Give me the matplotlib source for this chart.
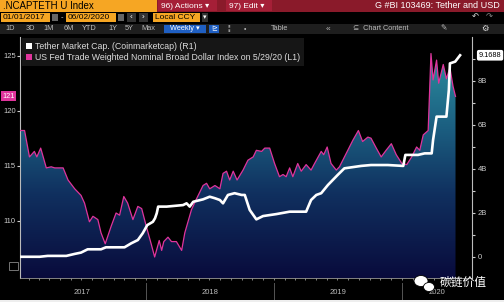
import numpy as np
import pandas as pd
import matplotlib
matplotlib.use('Agg')
import matplotlib.pyplot as plt
import matplotlib.dates as mdates
import matplotlib.transforms as mtrans
from matplotlib.colors import LinearSegmentedColormap
from matplotlib.patches import Rectangle, Ellipse, Patch

plt.rcParams['font.family'] = ['Liberation Sans', 'DejaVu Sans']

# US Fed trade weighted broad dollar index (left axis)
usd_dates = ['2017-01-07', '2017-01-20', '2017-02-03', '2017-02-17', '2017-02-24', '2017-03-07',
             '2017-03-23', '2017-04-06', '2017-04-16', '2017-05-10', '2017-05-24', '2017-06-12',
             '2017-06-30', '2017-07-10', '2017-07-24', '2017-08-03', '2017-08-17', '2017-08-26',
             '2017-09-07', '2017-09-24', '2017-10-08', '2017-10-18', '2017-10-30', '2017-11-10',
             '2017-11-25', '2017-12-09', '2017-12-20',
             '2018-01-02', '2018-01-16', '2018-01-26', '2018-02-08', '2018-02-15', '2018-02-21',
             '2018-03-05', '2018-03-15', '2018-03-29', '2018-04-13', '2018-04-22', '2018-05-11',
             '2018-05-21', '2018-06-13', '2018-06-23', '2018-07-02', '2018-07-17', '2018-07-31',
             '2018-08-09', '2018-08-19', '2018-08-28', '2018-09-07', '2018-09-18', '2018-10-05',
             '2018-10-19', '2018-11-03', '2018-11-12', '2018-11-27', '2018-12-06', '2018-12-20',
             '2019-01-03', '2019-01-17', '2019-01-27', '2019-02-05', '2019-02-15', '2019-02-24',
             '2019-03-10', '2019-03-20', '2019-04-03', '2019-04-17', '2019-04-27', '2019-05-16',
             '2019-05-23', '2019-06-02', '2019-06-13', '2019-06-28', '2019-07-07', '2019-07-26',
             '2019-08-14', '2019-08-30', '2019-09-11', '2019-09-26', '2019-10-05', '2019-10-20',
             '2019-11-03', '2019-11-17', '2019-12-02', '2019-12-16',
             '2020-01-01', '2020-01-15', '2020-01-29', '2020-02-12', '2020-02-21', '2020-03-02',
             '2020-03-16', '2020-03-24', '2020-03-30', '2020-04-09', '2020-04-15', '2020-04-28',
             '2020-05-07', '2020-05-17', '2020-05-26', '2020-06-02']
usd_vals = [118.2, 118.2, 115.8, 116.3, 115.8, 116.6, 114.8, 114.9, 114.8, 114.8, 113.7, 112.9,
            112.3, 111.6, 109.9, 110.4, 110.1, 108.9, 107.9, 109.5, 110.7, 110.5, 112.2, 111.6,
            110.1, 111.3, 111.1,
            109.5, 107.9, 106.7, 108.2, 107.3, 108.1, 108.5, 108.1, 108.1, 107.3, 108.9, 111.0,
            111.7, 113.2, 113.4, 112.9, 113.2, 112.9, 114.3, 114.5, 113.7, 114.5, 113.7, 114.6,
            115.5, 115.8, 116.4, 116.3, 116.6, 116.6,
            115.2, 114.0, 114.2, 114.0, 114.8, 114.0, 115.2, 114.5, 115.1, 114.6, 115.2, 116.3,
            116.0, 116.7, 115.2, 114.6, 114.9, 116.1, 117.3, 118.2, 117.2, 117.6, 117.5, 116.6,
            115.8, 116.4, 117.0, 116.0,
            115.2, 115.1, 115.8, 116.7, 116.4, 117.8, 118.2, 125.2, 122.8, 124.6, 122.5, 124.2,
            122.9, 123.9, 122.2, 121.3]

# Tether market cap in billions USD (right axis)
tether_dates = ['2017-01-07', '2017-03-04', '2017-03-27', '2017-05-19', '2017-06-12', '2017-06-30',
                '2017-07-19', '2017-08-26', '2017-09-09', '2017-11-01', '2017-11-20', '2017-12-09',
                '2017-12-23',
                '2018-01-05', '2018-01-21', '2018-01-27', '2018-02-01', '2018-02-05', '2018-03-01',
                '2018-04-17', '2018-04-27', '2018-05-06', '2018-05-16', '2018-06-13', '2018-07-02',
                '2018-07-17', '2018-07-31', '2018-08-09', '2018-08-23', '2018-09-11', '2018-10-01',
                '2018-10-10', '2018-10-24', '2018-11-12', '2018-12-01',
                '2019-01-08', '2019-02-15', '2019-04-03', '2019-04-17', '2019-05-02', '2019-05-16',
                '2019-06-04', '2019-06-18', '2019-07-02', '2019-07-21', '2019-09-07', '2019-10-05',
                '2019-11-22',
                '2020-01-05', '2020-01-11', '2020-02-16', '2020-03-06', '2020-03-26', '2020-03-30',
                '2020-04-09', '2020-05-07', '2020-05-14', '2020-05-17', '2020-06-01', '2020-06-15']
tether_vals = [0.01, 0.01, 0.05, 0.05, 0.14, 0.2, 0.35, 0.35, 0.44, 0.44, 0.62, 0.77, 1.08,
               1.45, 1.6, 1.76, 1.99, 2.29, 2.29, 2.36, 2.44, 2.29, 2.51, 2.62, 2.74, 2.67, 2.59,
               2.44, 2.82, 2.9, 2.82, 2.82, 2.14, 1.71, 1.86,
               1.95, 2.06, 2.06, 2.59, 2.82, 2.9, 3.27, 3.5, 3.73, 4.03, 4.14, 4.18, 4.18,
               4.14, 4.64, 4.64, 4.71, 4.71, 5.32, 6.38, 6.38, 7.59, 8.8, 8.88, 9.17]

left_ticks = [110, 115, 120, 125]
right_ticks = [0, 2, 4, 6, 8]
right_labels = ['0', '2B', '4B', '6B', '8B']
years = ['2017', '2018', '2019', '2020']
year_centers = ['2017-07-04', '2018-07-04', '2019-07-04', '2020-04-10']
year_starts = ['2018-01-01', '2019-01-01', '2020-01-01']

W, H = 504, 302
fig = plt.figure(figsize=(W / 100, H / 100), dpi=100, facecolor='black')


def fx(x):
    return x / W


def fy(y):
    return 1 - y / H


def box(x0, y0, x1, y1, color, **kw):
    fig.add_artist(Rectangle((fx(x0), fy(y1)), (x1 - x0) / W, (y1 - y0) / H,
                             transform=fig.transFigure, facecolor=color,
                             edgecolor=kw.pop('edgecolor', 'none'), lw=0.6, **kw))


def label(x, y, s, color='white', size=5.5, ha='left', **kw):
    fig.text(fx(x), fy(y), s, color=color, fontsize=size, ha=ha, va='center', **kw)


# ---- Bloomberg header bars ----
orange = '#f6a623'
box(0, 0, 157, 11.5, orange)
label(3, 6, '.NCAPTETH U Index', color='black', size=7)
box(157, 0, 504, 11.5, '#8a1a2a')
box(158, 0.5, 217, 11, '#a51f37')
box(226, 0.5, 272, 11, '#a51f37')
label(161, 6, '96) Actions ▾', size=6)
label(229, 6, '97) Edit ▾', size=6)
label(500, 6, 'G #BI 103469: Tether and USD', size=6.5, ha='right')

box(1, 13, 50, 22, orange)
label(3, 17.5, '01/01/2017', color='black', size=6)
box(52, 14, 58, 21, '#666666')
label(61, 17.5, '-', size=5.5, color='#cccccc')
box(66, 13, 116, 22, orange)
label(68, 17.5, '06/02/2020', color='black', size=6)
box(118, 14, 124, 21, '#666666')
box(127, 13, 136, 22, '#333333')
label(131.5, 17.5, '‹', ha='center', size=6)
box(139, 13, 148, 22, '#333333')
label(143.5, 17.5, '›', ha='center', size=6)
box(153, 13, 200, 22, orange)
label(155, 17.5, 'Local CCY', color='black', size=6)
box(202, 13, 208, 22, '#333333')
label(205, 17.5, '▾', ha='center', size=5)
label(475, 17.5, '↶', ha='center', size=6, color='#dddddd')
label(489, 17.5, '↷', ha='center', size=6, color='#888888')

box(0, 24, 504, 34, '#1e1e1e')
for txt, xc in [('1D', 10), ('3D', 30), ('1M', 49), ('6M', 69), ('YTD', 89),
                ('1Y', 113), ('5Y', 129), ('Max', 148)]:
    label(xc, 29, txt, color='#bbbbbb', size=5.3, ha='center')
box(164, 25, 206, 33, '#1f5fc2')
label(185, 29, 'Weekly ▾', size=5.3, ha='center')
box(209, 25, 219, 33, '#1f5fc2')
label(214, 29, '⊵', size=5, ha='center')
label(229, 29, '¦¦', size=5, ha='center', color='#bbbbbb')
label(245, 29, '•', size=5, ha='center', color='#bbbbbb')
label(280, 29, 'Table', size=5.3, ha='center', color='#bbbbbb')
label(328, 29, '«', size=6, ha='center', color='#bbbbbb')
label(353, 29, '⊆  Chart Content', size=5.3, color='#bbbbbb')
label(444, 29, '✎', size=5.5, ha='center', color='#bbbbbb')
label(485, 29, '⚙', size=6, ha='center', color='#dddddd')

# ---- main chart ----
ax = fig.add_axes([fx(20), fy(278), 452 / W, 241 / H])
ax.set_facecolor('black')
usd_x = pd.to_datetime(usd_dates)
teth_x = pd.to_datetime(tether_dates)

ylo, yhi = 104.79, 126.7
x0, x1 = pd.Timestamp('2017-01-07'), pd.Timestamp('2020-07-19')

ax.plot(usd_x, usd_vals, color='#e0349c', lw=0.9, zorder=3)
cmap = LinearSegmentedColormap.from_list(
    'bbg', [(0, '#090b3c'), (0.35, '#10305f'), (0.62, '#1b5e80'), (1, '#2f98a6')])
grad = np.linspace(0, 1, 256).reshape(-1, 1)
im = ax.imshow(grad, extent=[mdates.date2num(x0), mdates.date2num(x1), ylo, yhi],
               origin='lower', aspect='auto', cmap=cmap, zorder=1)
poly = ax.fill_between(usd_x, usd_vals, ylo, facecolor='none', edgecolor='none')
im.set_clip_path(poly.get_paths()[0], transform=ax.transData)

ax.set_xlim(x0, x1)
ax.set_ylim(ylo, yhi)
ax.set_yticks(left_ticks)
ax.tick_params(axis='y', colors='#cccccc', labelsize=5.5, length=2, width=0.8, pad=1)
ax.xaxis.set_major_locator(mdates.YearLocator())
ax.xaxis.set_minor_locator(mdates.MonthLocator())
ax.tick_params(axis='x', which='both', labelbottom=False, colors='#999999', length=1.5, width=0.6)
for s in ['top', 'right']:
    ax.spines[s].set_visible(False)
ax.spines['left'].set_color('#bbbbbb')
ax.spines['left'].set_linewidth(0.8)
ax.spines['bottom'].set_color('#999999')
ax.spines['bottom'].set_linewidth(0.6)

ax2 = ax.twinx()
ax2.plot(teth_x, tether_vals, color='white', lw=1.9, zorder=3)
ax2.set_ylim(-0.955, 10.0)
ax2.set_yticks(right_ticks, right_labels)
ax2.set_yticks([1, 3, 5, 7, 9], minor=True)
ax2.tick_params(axis='y', which='both', colors='#cccccc', labelsize=5.5, length=2, width=0.8, pad=2)
for s in ['top', 'left', 'bottom']:
    ax2.spines[s].set_visible(False)
ax2.spines['right'].set_color('#bbbbbb')
ax2.spines['right'].set_linewidth(0.8)
ax2.set_xlim(x0, x1)

# legend
handles = [Patch(facecolor='white', edgecolor='none'), Patch(facecolor='#e0349c', edgecolor='none')]
names = ['Tether Market Cap. (Coinmarketcap) (R1)',
         'US Fed Trade Weighted Nominal Broad Dollar Index on 5/29/20 (L1)']
leg = ax2.legend(handles, names, loc='upper left', bbox_to_anchor=(0.004, 0.997), fontsize=6.3,
                 frameon=True, facecolor='#161616', edgecolor='none', framealpha=1,
                 labelcolor='#dcdcdc', handlelength=0.7, handleheight=0.7, handletextpad=0.4,
                 borderpad=0.45, labelspacing=0.3, fancybox=False, borderaxespad=0)

# last value tags
bl = mtrans.blended_transform_factory(ax.transAxes, ax.transData)
ax.text(-0.025, usd_vals[-1], '121', transform=bl, ha='center', va='center', fontsize=5.3,
        color='white', clip_on=False,
        bbox=dict(boxstyle='square,pad=0.2', facecolor='#e0349c', edgecolor='none'))
br = mtrans.blended_transform_factory(ax2.transAxes, ax2.transData)
ax2.text(1.04, tether_vals[-1], '9.1688', transform=br, ha='center', va='center', fontsize=5.3,
         color='black', clip_on=False,
         bbox=dict(boxstyle='round,pad=0.25', facecolor='white', edgecolor='none'))

# year band
bt = mtrans.blended_transform_factory(ax.transData, ax.transAxes)
for yr, c in zip(years, year_centers):
    ax.text(pd.Timestamp(c), -0.062, yr, transform=bt, ha='center', va='center',
            fontsize=5.5, color='#bbbbbb')
for d in year_starts:
    ax.plot([pd.Timestamp(d)] * 2, [-0.02, -0.092], transform=bt, clip_on=False,
            color='#555555', lw=0.7)

# small chart icon lower left
box(9, 262, 18, 270, 'none', edgecolor='#888888')

# watermark
for cx, cy, w, h in [(421, 281, 14, 11), (429, 287, 11, 9)]:
    fig.add_artist(Ellipse((cx / 100, (H - cy) / 100), w / 100, h / 100,
                           transform=fig.dpi_scale_trans, facecolor='white',
                           edgecolor='black', lw=0.6))
fig.text(fx(440), fy(282), '碳链价值', color='white', fontsize=8.5, va='center',
         family=['Noto Sans CJK SC', 'DejaVu Sans'])

box(0, 300, 504, 302, '#eeeeee')

fig.savefig('out.png', dpi=100, facecolor='black')
